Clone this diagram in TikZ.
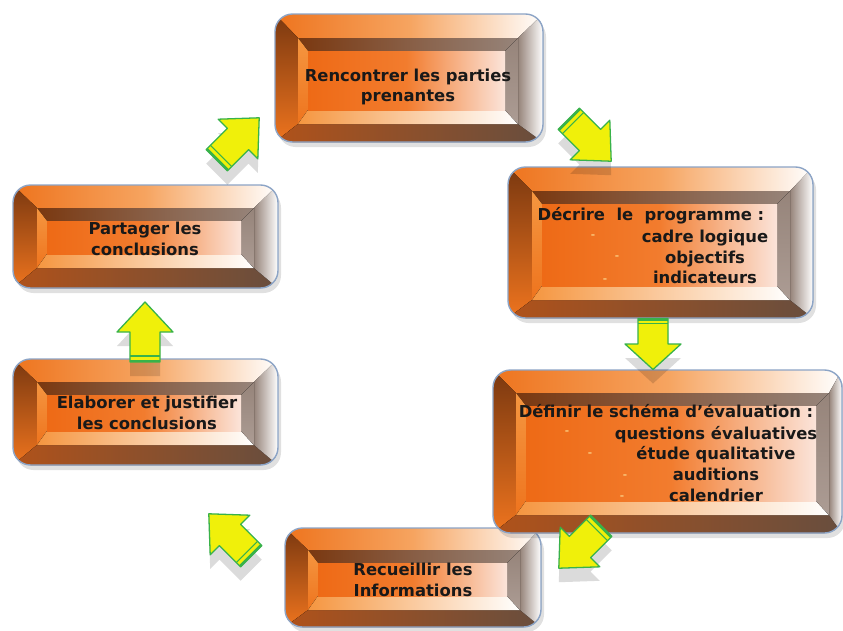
\documentclass[tikz,border=0pt]{standalone}
\usepackage{fontspec}
\setmainfont{DejaVu Sans}
\usetikzlibrary{calc}

\definecolor{edgeblue}{RGB}{140,164,198}
\definecolor{orgtop}{RGB}{238,116,30}
\definecolor{orgmid}{RGB}{246,164,96}
\definecolor{brndark}{RGB}{122,56,16}
\definecolor{brnmid}{RGB}{176,82,26}
\definecolor{brnlow}{RGB}{104,78,62}
\definecolor{greyin}{RGB}{150,132,122}
\definecolor{greylt}{RGB}{172,156,148}
\definecolor{orgbev}{RGB}{245,150,64}
\definecolor{orgface}{RGB}{238,106,22}
\definecolor{orgface2}{RGB}{242,124,46}
\definecolor{paleface}{RGB}{251,228,218}
\definecolor{arrowyellow}{RGB}{240,240,10}
\definecolor{arrowgreen}{RGB}{56,178,74}
\definecolor{dotcolor}{RGB}{250,196,120}

\tikzset{
  boxtext/.style={font=\bfseries\fontsize{14}{17.6}\selectfont, text=black!90, align=center, inner sep=0pt},
  bullet/.style={font=\bfseries\fontsize{9}{9}\selectfont, text=dotcolor, inner sep=0pt},
  boxedge/.style={draw=edgeblue, line width=1.2pt, rounded corners=15pt},
  arrowfill/.style={fill=arrowyellow, draw=arrowgreen, line width=1.1pt, line join=round},
  arrowshade/.style={fill=black, fill opacity=0.14},
  pics/arrowbody/.style={code={
    \filldraw[arrowfill] (-30,-15) -- (0,-15) -- (0,-28) -- (30,0) -- (0,28) -- (0,15) -- (-30,15) -- cycle;
    \draw[arrowgreen, line width=2pt] (-29,-15) -- (-29,15);
    \draw[arrowgreen, line width=0.9pt] (-24,-15) -- (-24,15);
  }},
  pics/arrowshadow/.style={code={
    \fill[arrowshade] (-30,-15) -- (0,-15) -- (0,-28) -- (30,0) -- (0,28) -- (0,15) -- (-30,15) -- cycle;
  }},
}

% block arrow with its shadow: [options]{x}{y}{angle}
\newcommand{\cyclearrow}[4][]{%
  \pic[rotate=#4,#1] at (#2,#3+14) {arrowshadow};
  \pic[rotate=#4,#1] at (#2,#3) {arrowbody};
}

% bevelled box: name, outer frame x1 y1 x2 y2, inner panel x1 y1 x2 y2
\newcommand{\bevelbox}[9]{%
  \coordinate (#1-nw) at (#2,#3);
  \coordinate (#1-ne) at (#4,#3);
  \coordinate (#1-se) at (#4,#5);
  \coordinate (#1-sw) at (#2,#5);
  \coordinate (#1-inw) at (#6,#7);
  \coordinate (#1-ine) at (#8,#7);
  \coordinate (#1-ise) at (#8,#9);
  \coordinate (#1-isw) at (#6,#9);
  \coordinate (#1-fnw) at (#6+10,#7+13);
  \coordinate (#1-fne) at (#8-13,#7+13);
  \coordinate (#1-fse) at (#8-13,#9-14);
  \coordinate (#1-fsw) at (#6+10,#9-14);
  % soft shadow
  \fill[black, opacity=0.12, rounded corners=15pt] (#2+3,#3+5) rectangle (#4+3,#5+5);
  \begin{scope}
    \clip[rounded corners=15pt] (#1-nw) rectangle (#1-se);
    % outer frame
    \fill[left color=orgtop, right color=white, middle color=orgmid] (#1-nw) rectangle (#1-se);
    \fill[top color=brndark, bottom color=orgtop] (#1-nw) -- (#1-inw) -- (#1-isw) -- (#1-sw) -- cycle;
    \fill[left color=brnmid, right color=brnlow] (#1-sw) -- (#1-isw) -- (#1-ise) -- (#1-se) -- cycle;
    \fill[left color=greyin, right color=white] (#1-ine) -- (#1-ne) -- (#1-se) -- (#1-ise) -- cycle;
  \end{scope}
  % inner panel
  \fill[left color=brndark, right color=greyin] (#1-inw) -- (#1-ine) -- (#1-fne) -- (#1-fnw) -- cycle;
  \fill[top color=orgbev, bottom color=orgtop] (#1-inw) -- (#1-fnw) -- (#1-fsw) -- (#1-isw) -- cycle;
  \fill[left color=orgbev, right color=white] (#1-isw) -- (#1-fsw) -- (#1-fse) -- (#1-ise) -- cycle;
  \fill[top color=greyin, bottom color=greylt] (#1-ine) -- (#1-ise) -- (#1-fse) -- (#1-fne) -- cycle;
  \fill[left color=orgface, right color=paleface, middle color=orgface2] (#1-fnw) rectangle (#1-fse);
  \draw[boxedge] (#1-nw) rectangle (#1-se);
}

\begin{document}
\begin{tikzpicture}[x=0.03cm, y=-0.03cm]
    \useasboundingbox[fill=white] (0,0) rectangle (843,630);

    % Boxes
    \bevelbox{b1}{275}{14}{543}{142}{298}{38}{518}{124}
    \bevelbox{b2}{508}{167}{813}{318}{532}{191}{790}{300}
    \bevelbox{b4}{285}{528}{541}{627}{308}{550}{520}{610}
    \bevelbox{b3}{493}{370}{842}{533}{516}{393}{829}{515}
    \bevelbox{b5}{13}{185}{278}{288}{37}{208}{254}{268}
    \bevelbox{b6}{13}{359}{278}{465}{37}{382}{254}{445}

    % Labels
    \node[boxtext] (rencontrer) at (408,87) {Rencontrer les parties\\prenantes};
    \node[boxtext, anchor=base] (decrire) at (651,220) {Décrire\ \ le\ \ programme\ :};
    \node[boxtext, anchor=north] (decrire-l) at (705,230) {cadre logique\\objectifs\\indicateurs};
    \node[boxtext, anchor=base] (definir) at (666,417) {Définir le schéma d’évaluation :};
    \node[boxtext, anchor=north] (definir-l) at (716,426) {questions évaluatives\\étude qualitative\\auditions\\calendrier};
    \node[boxtext] (recueillir) at (413,580) {Recueillir les\\Informations};
    \node[boxtext] (elaborer) at (147,413) {Elaborer et justifier\\les conclusions};
    \node[boxtext] (partager) at (145,239) {Partager les\\conclusions};

    % Bullets
    \foreach \p [count=\i] in {(593,237),(617,258),(605,281),(567,433),(590,455),(625,477),(622,498)}
        \node[bullet] (dot\i) at \p {-};

    % Arrows
    \cyclearrow{590}{140}{-45}
    \cyclearrow[xscale=0.85]{653}{344}{-90}
    \cyclearrow{580}{547}{-135}
    \cyclearrow{230}{535}{135}
    \cyclearrow{145}{332}{90}
    \cyclearrow{238}{139}{45}
\end{tikzpicture}
\end{document}
